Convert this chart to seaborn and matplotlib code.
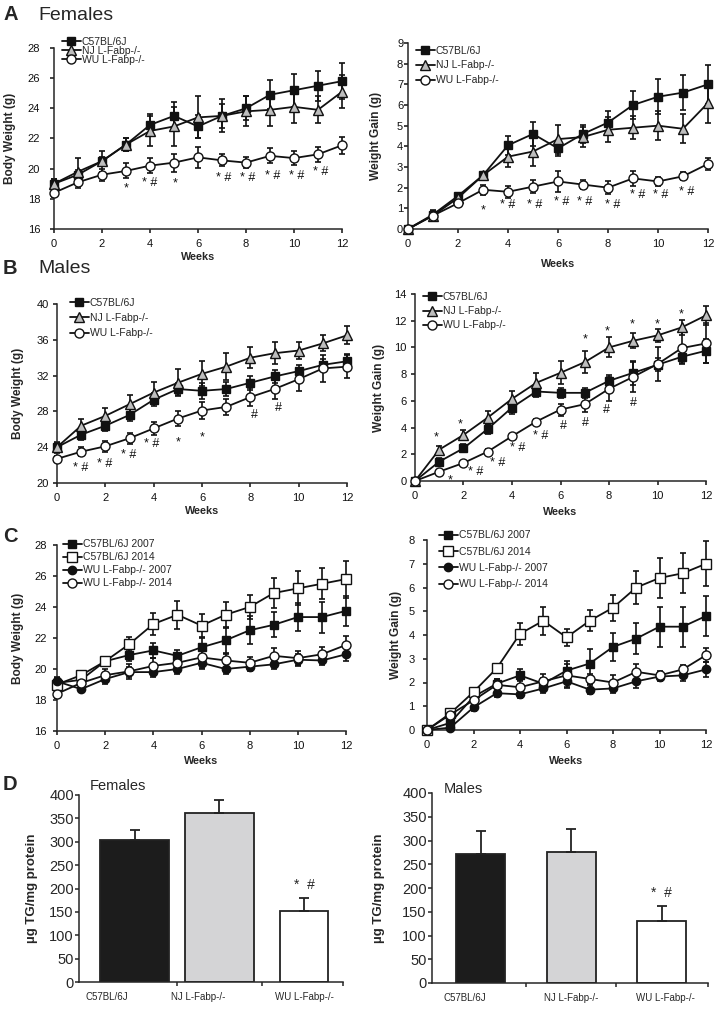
import numpy as np
import pandas as pd
import matplotlib.pyplot as plt
import seaborn as sns

# ------------------------------
# data
# ------------------------------
weeks = list(range(13))

# A: females
f_bw_c57 = [19.0, 19.6, 20.5, 21.6, 22.9, 23.5, 22.8, 23.5, 24.0, 24.9, 25.2, 25.5, 25.8]
f_bw_c57_sem = [0.3, 0.3, 0.3, 0.45, 0.7, 0.9, 0.75, 0.8, 0.8, 0.95, 1.1, 1.0, 1.2]
f_bw_nj = [19.0, 19.8, 20.5, 21.6, 22.5, 22.8, 23.4, 23.5, 23.8, 23.9, 24.1, 23.9, 25.1]
f_bw_nj_sem = [0.3, 0.9, 0.7, 0.45, 1.0, 1.3, 1.4, 1.1, 1.0, 1.1, 1.1, 0.9, 1.1]
f_bw_wu = [18.4, 19.1, 19.6, 19.85, 20.2, 20.4, 20.75, 20.55, 20.4, 20.85, 20.7, 20.95, 21.55]
f_bw_wu_sem = [0.3, 0.4, 0.4, 0.5, 0.5, 0.6, 0.7, 0.4, 0.35, 0.5, 0.45, 0.5, 0.55]

f_wg_c57 = [0, 0.7, 1.6, 2.6, 4.05, 4.6, 3.9, 4.6, 5.15, 6.0, 6.4, 6.6, 7.0]
f_wg_c57_sem = [0, 0.2, 0.15, 0.15, 0.45, 0.6, 0.35, 0.45, 0.55, 0.7, 0.85, 0.85, 0.95]
f_wg_nj = [0, 0.65, 1.5, 2.6, 3.5, 3.75, 4.35, 4.45, 4.8, 4.9, 5.0, 4.85, 6.1]
f_wg_nj_sem = [0, 0.2, 0.15, 0.15, 0.5, 0.7, 0.7, 0.5, 0.6, 0.55, 0.7, 0.7, 0.95]
f_wg_wu = [0, 0.65, 1.25, 1.9, 1.8, 2.05, 2.3, 2.15, 2.0, 2.45, 2.3, 2.55, 3.15]
f_wg_wu_sem = [0, 0.1, 0.1, 0.25, 0.3, 0.3, 0.5, 0.2, 0.3, 0.35, 0.2, 0.2, 0.3]

# B: males
m_bw_c57 = [24.0, 25.4, 26.4, 27.6, 29.3, 30.5, 30.3, 30.5, 31.2, 31.9, 32.5, 33.2, 33.6]
m_bw_c57_sem = [0.5, 0.6, 0.6, 0.7, 0.7, 0.7, 0.9, 0.8, 0.8, 0.7, 0.7, 0.7, 0.8]
m_bw_nj = [24.0, 26.4, 27.5, 28.8, 30.1, 31.2, 32.2, 33.0, 34.0, 34.5, 34.8, 35.6, 36.5]
m_bw_nj_sem = [0.6, 0.8, 0.9, 1.0, 1.2, 1.5, 1.4, 1.5, 1.2, 1.2, 0.9, 0.9, 1.0]
m_bw_wu = [22.7, 23.5, 24.1, 25.0, 26.1, 27.2, 28.1, 28.5, 29.6, 30.5, 31.6, 32.8, 33.0]
m_bw_wu_sem = [0.3, 0.5, 0.6, 0.6, 0.7, 0.8, 0.9, 0.9, 1.0, 1.1, 1.3, 1.5, 1.3]

m_wg_c57 = [0, 1.45, 2.45, 3.9, 5.5, 6.7, 6.6, 6.6, 7.5, 8.1, 8.7, 9.3, 9.75]
m_wg_c57_sem = [0, 0.3, 0.3, 0.4, 0.5, 0.4, 0.4, 0.4, 0.4, 0.9, 0.5, 0.5, 0.9]
m_wg_nj = [0, 2.35, 3.45, 4.75, 6.15, 7.35, 8.1, 8.9, 10.0, 10.5, 10.9, 11.5, 12.4]
m_wg_nj_sem = [0, 0.3, 0.4, 0.5, 0.6, 0.7, 0.85, 0.85, 0.75, 0.55, 0.5, 0.55, 0.7]
m_wg_wu = [0, 0.7, 1.35, 2.2, 3.35, 4.45, 5.35, 5.75, 6.9, 7.8, 8.75, 9.95, 10.3]
m_wg_wu_sem = [0, 0.15, 0.15, 0.2, 0.2, 0.2, 0.45, 0.55, 0.9, 1.1, 1.3, 1.2, 1.5]

# C: 2007 cohort (2014 cohort = female data above)
bw_c57_2007 = [19.1, 19.3, 20.5, 20.9, 21.2, 20.85, 21.4, 21.85, 22.5, 22.85, 23.35, 23.35, 23.75]
bw_c57_2007_sem = [0.3, 0.3, 0.3, 0.4, 0.5, 0.4, 0.6, 0.8, 0.9, 0.8, 0.9, 1.0, 0.95]
bw_wu_2007 = [19.2, 18.7, 19.35, 19.8, 19.8, 20.0, 20.4, 20.0, 20.15, 20.3, 20.6, 20.55, 20.95]
bw_wu_2007_sem = [0.3, 0.2, 0.3, 0.3, 0.3, 0.3, 0.4, 0.3, 0.3, 0.3, 0.4, 0.3, 0.45]
wg_c57_2007 = [0, 0.3, 1.4, 1.95, 2.3, 1.95, 2.5, 2.8, 3.5, 3.85, 4.35, 4.35, 4.8]
wg_c57_2007_sem = [0, 0.2, 0.2, 0.2, 0.25, 0.25, 0.4, 0.6, 0.6, 0.65, 0.85, 0.85, 0.85]
wg_wu_2007 = [0, 0.1, 0.95, 1.55, 1.5, 1.75, 2.05, 1.7, 1.75, 2.05, 2.25, 2.3, 2.55]
wg_wu_2007_sem = [0, 0.1, 0.15, 0.15, 0.15, 0.2, 0.3, 0.2, 0.2, 0.3, 0.2, 0.25, 0.3]

# D: liver TG
groups = ["C57BL/6J", "NJ L-Fabp-/-", "WU L-Fabp-/-"]
tg_f = [303, 361, 152]
tg_f_sem = [22, 28, 28]
tg_m = [272, 275, 131]
tg_m_sem = [48, 50, 31]

# significance marks (week, y in data units, text)
ann_af_x = [3, 4, 5.05, 7.05, 8.05, 9.1, 10.1, 11.1, 12.3]
ann_af_y = [18.95, 19.05, 19.28, 19.35, 19.35, 19.5, 19.5, 19.75, 20.25]
ann_af_t = ["*", "* #", "*", "* #", "* #", "* #", "* #", "* #", "* #"]

ann_ag_x = [3, 4, 5.05, 6.15, 7.05, 8.2, 9.2, 10.1, 11.15, 12.25]
ann_ag_y = [1.09, 1.14, 1.14, 1.29, 1.29, 1.14, 1.66, 1.66, 1.78, 2.38]
ann_ag_t = ["*", "* #", "* #", "* #", "* #", "* #", "* #", "* #", "* #", "* #"]

ann_bf_x = [0.98, 1.99, 2.95, 3.92, 5.02, 5.99, 8.15, 9.16]
ann_bf_y = [21.68, 22.12, 23.17, 24.39, 25.03, 25.59, 27.56, 28.38]
ann_bf_t = ["* #", "* #", "* #", "* #", "*", "*", "#", "#"]

ann_bg_x = [0.89, 1.86, 7.0, 7.94, 8.97, 9.98, 10.97, 11.9,
            1.47, 2.5, 3.4, 4.22, 5.19, 6.12, 7.02, 7.91, 9.01]
ann_bg_y = [3.57, 4.52, 10.88, 11.5, 12.05, 12.05, 12.75, 14.1,
            0.37, 0.65, 1.37, 2.45, 3.39, 4.12, 4.37, 5.32, 5.81]
ann_bg_t = ["*"] * 8 + ["*", "* #", "* #", "* #", "* #", "#", "#", "#", "#"]

# ------------------------------
# style
# ------------------------------
sns.set_theme(style="ticks")
plt.rcParams["font.family"] = ["Liberation Sans", "DejaVu Sans"]
plt.rcParams["axes.linewidth"] = 1.1

W, H = 722, 1009
fig = plt.figure(figsize=(W / 100, H / 100), dpi=100)


def px_axes(rect):
    x0, y0, x1, y1 = rect
    ax = fig.add_axes([x0 / W, 1 - y1 / H, (x1 - x0) / W, (y1 - y0) / H])
    ax.px = rect
    return ax


C57 = dict(marker="s", face="#111111", ms=6)
C57_OPEN = dict(marker="s", face="white", ms=6.5)
NJ = dict(marker="^", face="#bdbdbd", ms=6.5)
WU = dict(marker="o", face="white", ms=6.5)
WU_FILLED = dict(marker="o", face="#111111", ms=6)


def draw_series(ax, y, sem, label, st):
    ax.errorbar(weeks, y, yerr=sem, fmt="none", ecolor="#111111",
                elinewidth=1.2, capsize=2.4, capthick=1.2, zorder=2, clip_on=False)
    sns.lineplot(x=weeks, y=y, ax=ax, color="#111111", lw=1.3,
                 marker=st["marker"], markersize=st["ms"],
                 markerfacecolor=st["face"], markeredgecolor="#111111",
                 markeredgewidth=1.0, label=label, zorder=3, clip_on=False,
                 errorbar=None)


def set_label_px(ax, xlab_top=None, ylab_right=None):
    x0, y0, x1, y1 = ax.px
    if xlab_top is not None:
        ax.xaxis.set_label_coords(0.5, (y1 - xlab_top) / (y1 - y0))
    if ylab_right is not None:
        ax.yaxis.set_label_coords((ylab_right - x0) / (x1 - x0), 0.5)


def style_axes(ax, ylim, ystep, ylabel, xlab_top, ylab_right, ypad):
    ax.set_xlim(0, 12)
    ax.set_ylim(*ylim)
    ax.set_xticks(range(0, 13, 2))
    ax.set_yticks(np.arange(ylim[0], ylim[1] + ystep / 2, ystep))
    sns.despine(ax=ax)
    ax.tick_params(labelsize=8, length=3, width=1.1, colors="#111111")
    ax.tick_params(axis="x", pad=4.5)
    ax.tick_params(axis="y", pad=ypad)
    ax.set_xlabel("Weeks", fontweight="bold", fontsize=7.8)
    ax.set_ylabel(ylabel, fontweight="bold", fontsize=8.6)
    set_label_px(ax, xlab_top, ylab_right)


def legend(ax, anchor, spacing):
    ax.legend(loc="upper left", bbox_to_anchor=anchor, frameon=False,
              fontsize=7.5, handlelength=1.8, handletextpad=0.1,
              labelspacing=spacing, borderaxespad=0, borderpad=0)


def marks(ax, xs, ys, ts, size=9):
    for x, y, t in zip(xs, ys, ts):
        dy = -3 if t == "*" else 0
        ax.annotate(t, (x, y), xytext=(0, dy), textcoords="offset points",
                    ha="center", va="center", fontsize=size, color="#111111")


# ------------------------------
# A: females
# ------------------------------
ax = px_axes((54, 48, 342, 229))
draw_series(ax, f_bw_c57, f_bw_c57_sem, "C57BL/6J", C57)
draw_series(ax, f_bw_nj, f_bw_nj_sem, "NJ L-Fabp-/-", NJ)
draw_series(ax, f_bw_wu, f_bw_wu_sem, "WU L-Fabp-/-", WU)
style_axes(ax, (16, 28), 2, "Body Weight (g)", 252, 16, 7)
legend(ax, (0.028, 1.06), -0.1)
marks(ax, ann_af_x, ann_af_y, ann_af_t)

ax = px_axes((408, 43, 708, 229))
draw_series(ax, f_wg_c57, f_wg_c57_sem, "C57BL/6J", C57)
draw_series(ax, f_wg_nj, f_wg_nj_sem, "NJ L-Fabp-/-", NJ)
draw_series(ax, f_wg_wu, f_wg_wu_sem, "WU L-Fabp-/-", WU)
style_axes(ax, (0, 9), 1, "Weight Gain (g)", 259, 382, 0.5)
legend(ax, (0.027, 0.985), 0.45)
marks(ax, ann_ag_x, ann_ag_y, ann_ag_t)

# ------------------------------
# B: males
# ------------------------------
ax = px_axes((57, 304, 347, 483))
draw_series(ax, m_bw_c57, m_bw_c57_sem, "C57BL/6J", C57)
draw_series(ax, m_bw_nj, m_bw_nj_sem, "NJ L-Fabp-/-", NJ)
draw_series(ax, m_bw_wu, m_bw_wu_sem, "WU L-Fabp-/-", WU)
style_axes(ax, (20, 40), 4, "Body Weight (g)", 506, 24, 3)
legend(ax, (0.045, 1.035), 0.5)
marks(ax, ann_bf_x, ann_bf_y, ann_bf_t)

ax = px_axes((415, 294, 706, 481))
draw_series(ax, m_wg_c57, m_wg_c57_sem, "C57BL/6J", C57)
draw_series(ax, m_wg_nj, m_wg_nj_sem, "NJ L-Fabp-/-", NJ)
draw_series(ax, m_wg_wu, m_wg_wu_sem, "WU L-Fabp-/-", WU)
style_axes(ax, (0, 14), 2, "Weight Gain (g)", 507, 385, 3)
legend(ax, (0.027, 1.01), 0.4)
marks(ax, ann_bg_x, ann_bg_y, ann_bg_t)

# ------------------------------
# C: 2007 vs 2014 cohorts
# ------------------------------
ax = px_axes((57, 545, 346, 731))
draw_series(ax, bw_c57_2007, bw_c57_2007_sem, "C57BL/6J 2007", C57)
draw_series(ax, f_bw_c57, f_bw_c57_sem, "C57BL/6J 2014", C57_OPEN)
draw_series(ax, bw_wu_2007, bw_wu_2007_sem, "WU L-Fabp-/- 2007", WU_FILLED)
draw_series(ax, f_bw_wu, f_bw_wu_sem, "WU L-Fabp-/- 2014", WU)
style_axes(ax, (16, 28), 2, "Body Weight (g)", 756, 24, 4.3)
legend(ax, (0.02, 1.03), 0.28)

ax = px_axes((427, 540, 706, 730))
draw_series(ax, wg_c57_2007, wg_c57_2007_sem, "C57BL/6J 2007", C57)
draw_series(ax, f_wg_c57, f_wg_c57_sem, "C57BL/6J 2014", C57_OPEN)
draw_series(ax, wg_wu_2007, wg_wu_2007_sem, "WU L-Fabp-/- 2007", WU_FILLED)
draw_series(ax, f_wg_wu, f_wg_wu_sem, "WU L-Fabp-/- 2014", WU)
style_axes(ax, (0, 8), 1, "Weight Gain (g)", 756, 402, 5.8)
legend(ax, (0.043, 1.05), 0.6)

# ------------------------------
# D: liver TG bars
# ------------------------------
bar_colors = ["#1c1c1c", "#d4d4d6", "white"]


def tg_bars(ax, vals, sems, xlim, width, label_dx, title, title_pos, ylab_right, wu_width=None):
    df = pd.DataFrame({"group": groups, "tg": vals})
    sns.barplot(data=df, x="group", y="tg", hue="group", palette=bar_colors,
                order=groups, hue_order=groups, legend=False, width=width,
                edgecolor="#222222", linewidth=1.3, ax=ax, saturation=1)
    if wu_width:
        p = ax.patches[2]
        c = p.get_x() + p.get_width() / 2
        p.set_width(wu_width)
        p.set_x(c - wu_width / 2)
    centers = [p.get_x() + p.get_width() / 2 for p in ax.patches[:3]]
    ax.errorbar(centers, vals, yerr=[np.zeros(3), sems], fmt="none",
                ecolor="#222222", elinewidth=1.3, capsize=3.5, capthick=1.3, zorder=1)
    ax.set_xlim(*xlim)
    ax.set_ylim(0, 400)
    ax.set_yticks(range(0, 401, 50))
    ax.set_xticks([i + d for i, d in enumerate(label_dx)])
    ax.set_xticklabels(groups, fontsize=7)
    ax.set_xticks([0.5, 1.5, xlim[1]], minor=True)
    ax.tick_params(axis="x", which="major", length=0, pad=7)
    ax.tick_params(axis="x", which="minor", length=3, width=1.1)
    ax.tick_params(axis="y", labelsize=10.5, length=3, width=1.1, pad=0.7)
    sns.despine(ax=ax)
    ax.set_xlabel("")
    ax.set_ylabel("µg TG/mg protein", fontweight="bold", fontsize=9.5)
    set_label_px(ax, None, ylab_right)
    ax.text(title_pos[0], title_pos[1], title, transform=ax.transAxes,
            fontsize=10.5, ha="left", va="center")
    ax.text(centers[2], vals[2] + sems[2] + 28, "*  #", ha="center",
            va="center", fontsize=10)


ax = px_axes((79, 795, 343, 982))
tg_bars(ax, tg_f, tg_f_sem, (-0.655, 2.46), 0.81, [-0.33, -0.25, 0.0],
        "Females", (0.042, 1.048), 38, wu_width=0.57)

ax = px_axes((432, 793, 708, 983))
tg_bars(ax, tg_m, tg_m_sem, (-0.536, 2.51), 0.54, [-0.17, 0.0, 0.04],
        "Males", (0.043, 1.02), 385)

# panel headings
for letter, y, sub in [("A", 15, "Females"), ("B", 269, "Males"), ("C", 536, None), ("D", 785, None)]:
    fig.text(3 / W, 1 - y / H, letter, fontsize=14.5, fontweight="bold", va="center")
    if sub:
        fig.text(38 / W, 1 - y / H, sub, fontsize=14, va="center")

fig.savefig("out.png", dpi=100)
